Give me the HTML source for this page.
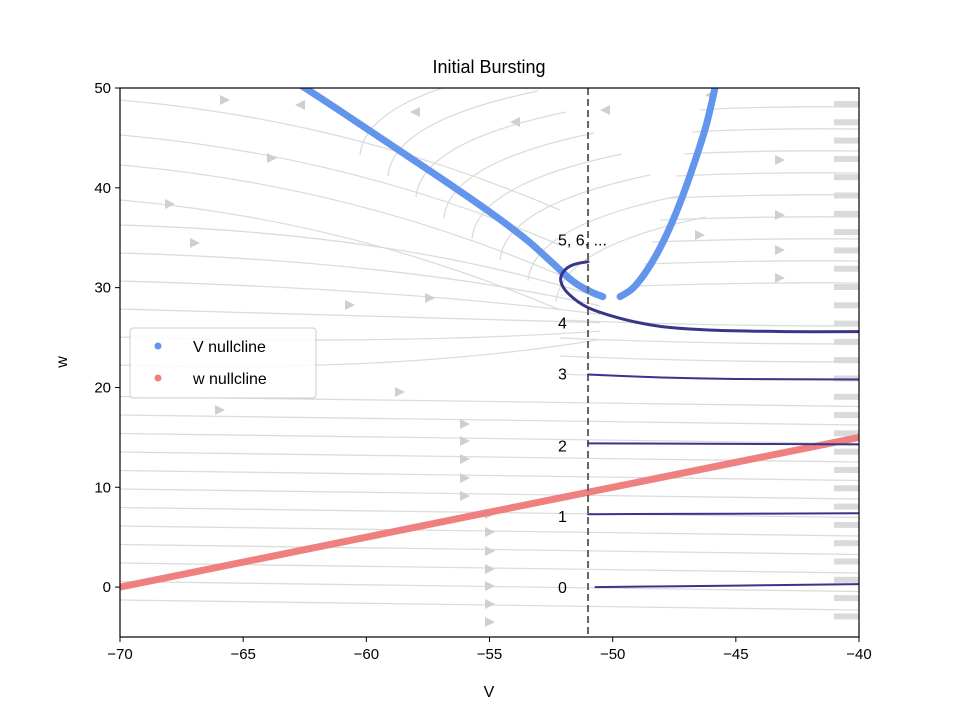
<!DOCTYPE html>
<html><head><meta charset="utf-8"><style>
body{margin:0;background:#fff;}
svg text{font-family:"Liberation Sans","DejaVu Sans",sans-serif;}
</style></head><body>
<svg id="chart" width="954" height="717" xmlns="http://www.w3.org/2000/svg">
<defs><clipPath id="clip"><rect x="120" y="88" width="739" height="549"/></clipPath></defs>
<g id="stream" clip-path="url(#clip)"></g>
<g id="marks" clip-path="url(#clip)"></g>
<g id="labels"></g>
<g id="axes"></g>
</svg>
<script>
const xTicks=[-70,-65,-60,-55,-50,-45,-40];
const yTicks=[0,10,20,30,40,50];
const vNullLeftV=[-62.8,-61,-59,-57,-55,-53.5,-52.5,-51.6,-50.9,-50.4];
const vNullLeftW=[50.5,47.6,44.3,41.0,37.6,34.8,32.6,30.6,29.6,29.1];
const vNullRightV=[-49.7,-49.2,-48.7,-48.2,-47.7,-47.2,-46.7,-46.2,-45.8];
const vRightW=[29.1,29.9,31.4,33.4,35.9,38.9,42.4,46.3,50.5];
const wNullV=[-70,-40];
const wNullW=[0,15];
const trajLabels=["0","1","2","3","4","5, 6, ..."];
const trajLabelW=[0,7.1,14.2,21.4,26.5,34.8];
const traj0V=[-50.7,-45,-40]; const traj0W=[0,0.15,0.3];
const traj1V=[-51,-45,-40]; const traj1W=[7.3,7.35,7.4];
const traj2V=[-51,-45,-40]; const traj2W=[14.4,14.35,14.3];
const traj3V=[-51,-48,-45,-40]; const traj3W=[21.3,21.0,20.85,20.8];
const traj4V=[-51,-51.6,-52.0,-52.1,-51.8,-51.0,-49.5,-48,-46,-43,-40];
const traj4W=[32.6,32.3,31.6,30.6,29.4,28.0,26.8,26.1,25.75,25.6,25.6];

const X0=120,X1=859,Y0=637,Y1=88;
const xs=v=>X0+(v+70)/30*(X1-X0);
const ys=w=>Y0-(w+5)/55*(Y0-Y1);
const NS="http://www.w3.org/2000/svg";
function mk(tag,attrs,parent){const e=document.createElementNS(NS,tag);for(const k in attrs)e.setAttribute(k,attrs[k]);parent.appendChild(e);return e;}
const stream=document.getElementById('stream'),marks=document.getElementById('marks'),axes=document.getElementById('axes'),labels=document.getElementById('labels');

// streamlines (decorative background)
const sl=[];
for(let y=600;y>=380;y-=18.5){sl.push(`M120 ${y} Q490 ${y+4} 859 ${y+10}`);}
for(let y=365;y>=200;y-=28){const ey=y+(300-y)*0.7;sl.push(`M120 ${y} Q400 ${y+8} 600 ${ey+20}`);}
[100,135,165,200].forEach(y=>sl.push(`M120 ${y} Q350 ${y+20} 560 ${y+110}`));
for(let i=0;i<8;i++){const x=360+i*28,y=140+i*21;sl.push(`M${x} ${y+15} Q${x+5} ${y-40} ${x+150} ${y-70}`);}
for(let i=0;i<9;i++){const y=110+i*22;sl.push(`M${700-i*8} ${y} Q760 ${y-4} 859 ${y-3}`);}
for(let i=0;i<4;i++){const y=320+i*18;sl.push(`M560 ${y} Q700 ${y+6} 859 ${y+6}`);}
sl.forEach(d=>{const p=mk('path',{d,fill:'none',stroke:'#dcdcdc','stroke-width':1.3},stream);

});
const arr=[[225,100],[272,158],[170,204],[195,243],[465,424],[465,441],[465,459],[465,478],[465,496],[490,514],[490,532],[490,551],[490,569],[490,586],[490,604],[490,622],[780,160],[780,215],[780,250],[780,278],[430,298],[350,305],[220,410],[400,392],[700,235]];
arr.forEach(([x,y])=>{const p=mk('path',{d:`M${x-5} ${y-5}L${x+5} ${y}L${x-5} ${y+5}Z`,fill:'#cfcfcf'},stream);

});
const larr=[[300,105],[415,112],[515,122],[605,110],[710,95]];
larr.forEach(([x,y])=>{const p=mk('path',{d:`M${x+5} ${y-5}L${x-5} ${y}L${x+5} ${y+5}Z`,fill:'#cfcfcf'},stream);

});
for(let y=104;y<630;y+=18.3){const r=mk('rect',{x:834,y:y-3,width:25,height:6,fill:'#dadada'},stream);

}

function smooth(P){let d=`M${P[0][0].toFixed(1)} ${P[0][1].toFixed(1)}`;
for(let i=0;i<P.length-1;i++){const p0=P[Math.max(i-1,0)],p1=P[i],p2=P[i+1],p3=P[Math.min(i+2,P.length-1)];
d+=`C${(p1[0]+(p2[0]-p0[0])/6).toFixed(1)} ${(p1[1]+(p2[1]-p0[1])/6).toFixed(1)} ${(p2[0]-(p3[0]-p1[0])/6).toFixed(1)} ${(p2[1]-(p3[1]-p1[1])/6).toFixed(1)} ${p2[0].toFixed(1)} ${p2[1].toFixed(1)}`;}
return d;}
function poly(V,W,attrs,name){const d=smooth(V.map((v,i)=>[xs(v),ys(W[i])]));
const p=mk('path',Object.assign({d,fill:'none','stroke-linecap':'round','stroke-linejoin':'round'},attrs),marks);

}
poly(wNullV,wNullW,{stroke:'#f08080','stroke-width':7},'w-nullcline');
poly(vNullLeftV,vNullLeftW,{stroke:'#6495ed','stroke-width':7},'v-nullcline-left');
poly(vNullRightV,vRightW,{stroke:'#6495ed','stroke-width':7},'v-nullcline-right');
const dv=mk('line',{x1:xs(-51),x2:xs(-51),y1:Y1,y2:Y0,stroke:'#666','stroke-width':2,'stroke-dasharray':'7 4'},marks);


poly(traj0V,traj0W,{stroke:'#38358a','stroke-width':2},'trajectory-0');
poly(traj1V,traj1W,{stroke:'#38358a','stroke-width':2},'trajectory-1');
poly(traj2V,traj2W,{stroke:'#38358a','stroke-width':2},'trajectory-2');
poly(traj3V,traj3W,{stroke:'#38358a','stroke-width':2},'trajectory-3');
poly(traj4V,traj4W,{stroke:'#38358a','stroke-width':3},'trajectory-4');
trajLabels.forEach((t,i)=>{const e=mk('text',{x:558,y:ys(trajLabelW[i])+6,'font-size':16,fill:'#000','font-family':'"Liberation Sans",sans-serif'},labels);e.textContent=t;

});

const fr=mk('rect',{x:X0,y:Y1,width:X1-X0,height:Y0-Y1,fill:'none',stroke:'#000','stroke-width':1.2},axes);


xTicks.forEach(v=>{mk('line',{x1:xs(v),x2:xs(v),y1:Y0,y2:Y0+5,stroke:'#000'},axes);
const t=mk('text',{x:xs(v),y:Y0+22,'font-size':15,'text-anchor':'middle'},axes);t.textContent=(v<0?'\u2212'+(-v):v);

});
yTicks.forEach(w=>{mk('line',{x1:X0-5,x2:X0,y1:ys(w),y2:ys(w),stroke:'#000'},axes);
const t=mk('text',{x:X0-9,y:ys(w)+5,'font-size':15,'text-anchor':'end'},axes);t.textContent=w;

});
</script>
<svg style="position:absolute;left:0;top:0" width="954" height="717">
<text x="489" y="73" font-size="18" text-anchor="middle">Initial Bursting</text>
<text x="489" y="697" font-size="16" text-anchor="middle">V</text>
<text x="67" y="362" font-size="16" text-anchor="middle" transform="rotate(-90 67 362)">w</text>
<g>
<rect x="130" y="328" width="186" height="70" rx="3" fill="#fff" fill-opacity="0.85" stroke="#ccc"/>
<circle cx="158" cy="346" r="3.5" fill="#6495ed"/>
<text x="193" y="352" font-size="16">V nullcline</text>
<circle cx="158" cy="378" r="3.5" fill="#f08080"/>
<text x="193" y="384" font-size="16">w nullcline</text>
</g>
</svg>
</body></html>
